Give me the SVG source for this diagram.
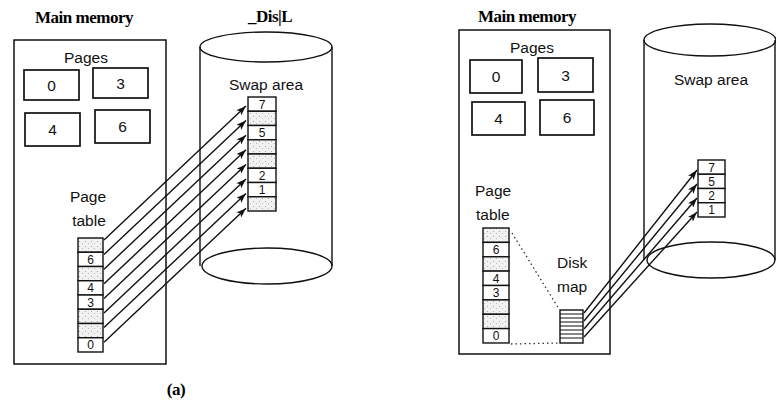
<svg xmlns="http://www.w3.org/2000/svg" width="776" height="400" viewBox="0 0 776 400">
<defs>
<style>
.ttl{font-family:"Liberation Serif",serif;font-weight:bold;font-size:17px;fill:#000;letter-spacing:-0.5px}
.lbl{font-family:"Liberation Sans",Arial,sans-serif;font-size:15.5px;fill:#111}
.dig{font-family:"Liberation Sans",Arial,sans-serif;font-size:15.5px;fill:#111;text-anchor:middle}
.cd{font-family:"Liberation Sans",Arial,sans-serif;font-size:12px;fill:#111;text-anchor:middle}
.box{fill:#fff;stroke:#111;stroke-width:1.5}
.pbox{fill:#fff;stroke:#111;stroke-width:1.7}
.cell{fill:#fff;stroke:#111;stroke-width:1.4}
.sh{fill:url(#speck);stroke:#111;stroke-width:1.4}
.cyl{fill:none;stroke:#111;stroke-width:1.4}
.arr{fill:none;stroke:#111;stroke-width:1.4;marker-end:url(#ah)}
.dot{fill:none;stroke:#333;stroke-width:1.3;stroke-dasharray:1.5 3}
</style>
<pattern id="speck" width="6" height="5" patternUnits="userSpaceOnUse">
<rect width="6" height="5" fill="#f1f1f1"/>
<rect x="1" y="1" width="1" height="1" fill="#aaa"/>
<rect x="4" y="3" width="1" height="1" fill="#bbb"/>
</pattern>
<marker id="ah" markerWidth="11" markerHeight="7" refX="10" refY="3.5" orient="auto" markerUnits="userSpaceOnUse">
<path d="M0,0 L10,3.5 L0,7 L2.5,3.5 z" fill="#111"/>
</marker>
</defs>
<rect width="776" height="400" fill="#fff"/>

<!-- ===== (a) ===== -->
<text class="ttl" x="84" y="23" text-anchor="middle">Main memory</text>
<text class="ttl" x="270" y="22" text-anchor="middle">_Dis|L</text>

<g id="main-memory-a">
<rect class="box" x="14" y="40" width="152" height="324"/>
<text class="lbl" x="86" y="63" text-anchor="middle">Pages</text>
</g>
<g id="page0-a"><rect class="pbox" x="24" y="70" width="55" height="30"/><text class="dig" x="51.5" y="91">0</text></g>
<g id="page3-a"><rect class="pbox" x="93" y="68" width="55" height="30"/><text class="dig" x="120.5" y="89">3</text></g>
<g id="page4-a"><rect class="pbox" x="25" y="113" width="55" height="33"/><text class="dig" x="52.5" y="135">4</text></g>
<g id="page6-a"><rect class="pbox" x="95" y="110" width="55" height="33"/><text class="dig" x="122.5" y="132">6</text></g>

<g id="page-table-a">
<text class="lbl" x="88" y="202" text-anchor="middle">Page</text>
<text class="lbl" x="89" y="226" text-anchor="middle">table</text>
<rect class="sh" x="78" y="238" width="25" height="14.25"/>
<rect class="cell" x="78" y="252.25" width="25" height="14.25"/><text class="cd" x="90.5" y="263.8">6</text>
<rect class="sh" x="78" y="266.5" width="25" height="14.25"/>
<rect class="cell" x="78" y="280.75" width="25" height="14.25"/><text class="cd" x="90.5" y="292.3">4</text>
<rect class="cell" x="78" y="295" width="25" height="14.25"/><text class="cd" x="90.5" y="306.5">3</text>
<rect class="sh" x="78" y="309.25" width="25" height="14.25"/>
<rect class="sh" x="78" y="323.5" width="25" height="14.25"/>
<rect class="cell" x="78" y="337.75" width="25" height="14.25"/><text class="cd" x="90.5" y="349.3">0</text>
</g>

<g id="disk-a">
<path class="cyl" d="M200,47 L200,266 M332,47 L332,266"/>
<ellipse class="cyl" cx="266" cy="47" rx="66" ry="15"/>
<ellipse class="cyl" cx="267" cy="266" rx="65" ry="18"/>
<text class="lbl" x="266" y="90" text-anchor="middle">Swap area</text>
</g>

<g id="swap-table-a">
<rect class="cell" x="248" y="97" width="28" height="14.25"/><text class="cd" x="262" y="108.5">7</text>
<rect class="sh" x="248" y="111.25" width="28" height="14.25"/>
<rect class="cell" x="248" y="125.5" width="28" height="14.25"/><text class="cd" x="262" y="137">5</text>
<rect class="sh" x="248" y="139.75" width="28" height="14.25"/>
<rect class="sh" x="248" y="154" width="28" height="14.25"/>
<rect class="cell" x="248" y="168.25" width="28" height="14.25"/><text class="cd" x="262" y="179.8">2</text>
<rect class="cell" x="248" y="182.5" width="28" height="14.25"/><text class="cd" x="262" y="194">1</text>
<rect class="sh" x="248" y="196.75" width="28" height="14.25"/>
</g>

<g id="connectors-a">
<line class="arr" x1="104" y1="240" x2="246" y2="106"/>
<line class="arr" x1="104" y1="254.6" x2="246" y2="120.6"/>
<line class="arr" x1="104" y1="269.2" x2="246" y2="135.2"/>
<line class="arr" x1="104" y1="283.8" x2="246" y2="149.8"/>
<line class="arr" x1="104" y1="298.4" x2="246" y2="164.4"/>
<line class="arr" x1="104" y1="313" x2="246" y2="179"/>
<line class="arr" x1="104" y1="327.6" x2="246" y2="193.6"/>
<line class="arr" x1="104" y1="342.2" x2="246" y2="208.2"/>
</g>

<text class="ttl" x="176" y="395" text-anchor="middle">(a)</text>

<!-- ===== (b) ===== -->
<text class="ttl" x="527" y="22" text-anchor="middle">Main memory</text>

<g id="main-memory-b">
<rect class="box" x="459" y="30" width="151" height="324"/>
<text class="lbl" x="532" y="53" text-anchor="middle">Pages</text>
</g>
<g id="page0-b"><rect class="pbox" x="470" y="60" width="52" height="33"/><text class="dig" x="496" y="82">0</text></g>
<g id="page3-b"><rect class="pbox" x="538" y="58" width="55" height="34"/><text class="dig" x="565.5" y="80.5">3</text></g>
<g id="page4-b"><rect class="pbox" x="472" y="102" width="53" height="33"/><text class="dig" x="498.5" y="124">4</text></g>
<g id="page6-b"><rect class="pbox" x="540" y="100" width="54" height="35"/><text class="dig" x="567" y="123">6</text></g>

<g id="page-table-b">
<text class="lbl" x="475" y="196">Page</text>
<text class="lbl" x="476" y="220">table</text>
<rect class="sh" x="483" y="228" width="26" height="14.375"/>
<rect class="cell" x="483" y="242.4" width="26" height="14.375"/><text class="cd" x="496" y="253.9">6</text>
<rect class="sh" x="483" y="256.75" width="26" height="14.375"/>
<rect class="cell" x="483" y="271.1" width="26" height="14.375"/><text class="cd" x="496" y="282.6">4</text>
<rect class="cell" x="483" y="285.5" width="26" height="14.375"/><text class="cd" x="496" y="297">3</text>
<rect class="sh" x="483" y="299.9" width="26" height="14.375"/>
<rect class="sh" x="483" y="314.25" width="26" height="14.375"/>
<rect class="cell" x="483" y="328.6" width="26" height="14.375"/><text class="cd" x="496" y="340.1">0</text>
</g>

<g id="disk-map-b">
<text class="lbl" x="557" y="268">Disk</text>
<text class="lbl" x="557" y="292">map</text>
<rect class="cell" x="560" y="310" width="23" height="33"/>
<path d="M560,314 H583 M560,318 H583 M560,322 H583 M560,326 H583 M560,330 H583 M560,334 H583 M560,338 H583" stroke="#111" stroke-width="1"/>
</g>

<g id="disk-b">
<path class="cyl" d="M644,40 L644,260 M775,40 L775,260"/>
<ellipse class="cyl" cx="710" cy="40" rx="66" ry="16"/>
<ellipse class="cyl" cx="711" cy="260" rx="64" ry="18"/>
<text class="lbl" x="711" y="85" text-anchor="middle">Swap area</text>
</g>

<g id="swap-table-b">
<rect class="cell" x="698" y="160" width="27" height="14.25"/><text class="cd" x="711.5" y="171.5">7</text>
<rect class="cell" x="698" y="174.25" width="27" height="14.25"/><text class="cd" x="711.5" y="185.8">5</text>
<rect class="cell" x="698" y="188.5" width="27" height="14.25"/><text class="cd" x="711.5" y="200">2</text>
<rect class="cell" x="698" y="202.75" width="27" height="14.25"/><text class="cd" x="711.5" y="214.3">1</text>
</g>

<g id="connectors-b">
<line class="dot" x1="512" y1="233" x2="559" y2="309"/>
<line class="dot" x1="511" y1="344" x2="559" y2="343"/>
<line class="arr" x1="584" y1="313" x2="697" y2="170"/>
<line class="arr" x1="584" y1="321" x2="697" y2="184"/>
<line class="arr" x1="584" y1="329" x2="697" y2="198"/>
<line class="arr" x1="584" y1="337" x2="697" y2="212"/>
</g>
</svg>
